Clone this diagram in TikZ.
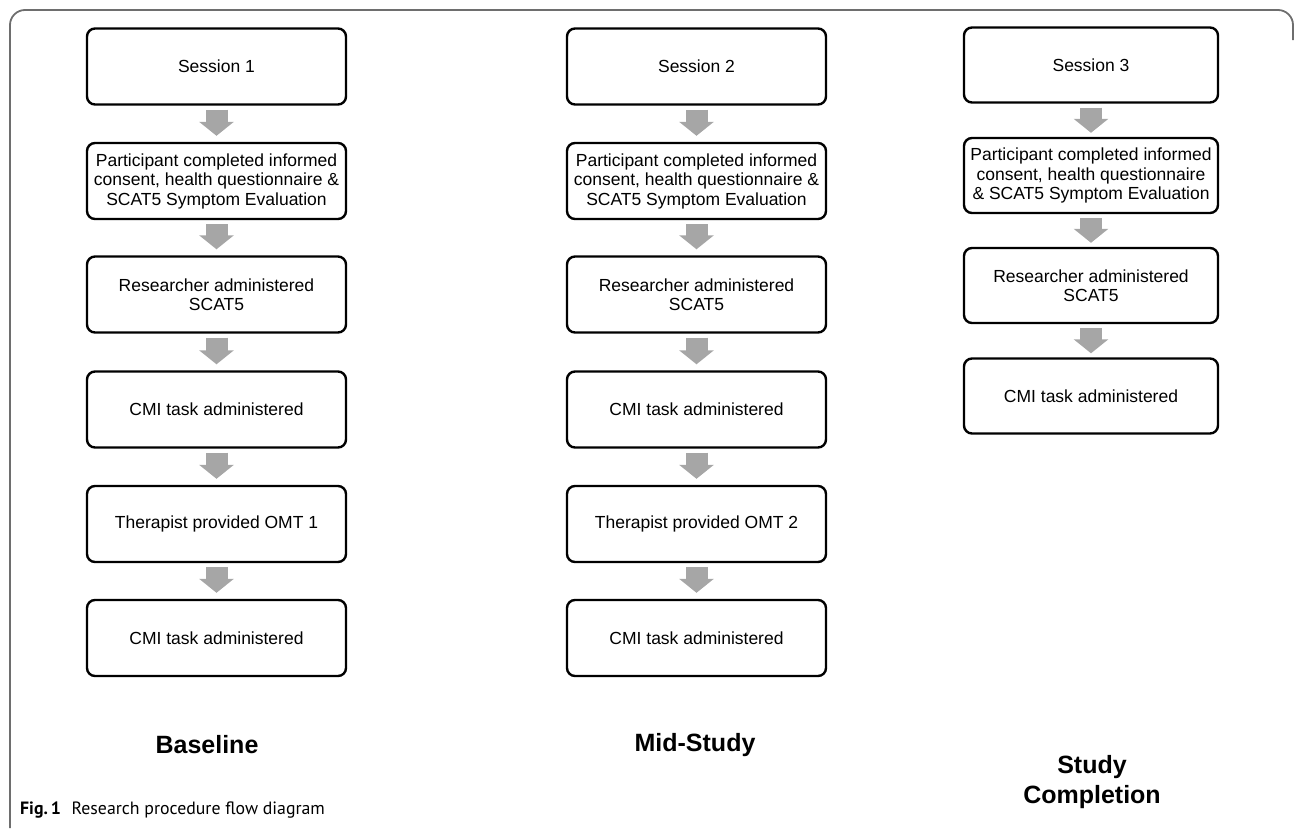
\documentclass[tikz,border=0pt]{standalone}
\usepackage{fontspec}
\setmainfont{Liberation Sans}
\newfontfamily\capfont{PT Sans}
\usetikzlibrary{arrows.meta,calc}
\definecolor{arrowgray}{HTML}{A6A6A6}
\definecolor{framegray}{HTML}{6E6E6E}
\tikzset{
  stepbox/.style={draw=black, line width=2.4pt, rounded corners=8pt, rectangle,
    minimum height=76pt, align=center, inner sep=0pt,
    font=\fontsize{17.5pt}{19.5pt}\selectfont},
  colA/.style={stepbox, minimum width=259pt},
  colC/.style={stepbox, minimum width=254pt, minimum height=75pt},
  flow/.style={draw=arrowgray, line width=22pt,
    -{Triangle[width=34pt,length=14pt]}},
  phase/.style={font=\fontsize{25pt}{30pt}\selectfont\bfseries, align=center}
}
\begin{document}
\begin{tikzpicture}[x=1pt,y=-1pt]
\useasboundingbox (0,0) rectangle (1295,828);
\draw[framegray, line width=1.8pt, rounded corners=15pt] (10,828) -- (10,10) -- (1293,10) -- (1293,40);

% Column 1
\node[colA] (a1) at (216.5,66.5) {Session 1};
\node[colA] (a2) at (216.5,181) {Participant completed informed\\consent, health questionnaire \&\\SCAT5 Symptom Evaluation};
\node[colA] (a3) at (216.5,294.5) {Researcher administered\\SCAT5};
\node[colA] (a4) at (216.5,409.5) {CMI task administered};
\node[colA] (a5) at (216.5,524) {Therapist provided OMT 1};
\node[colA] (a6) at (216.5,638) {CMI task administered};

% Column 2
\node[colA] (b1) at (696.5,66.5) {Session 2};
\node[colA] (b2) at (696.5,181) {Participant completed informed\\consent, health questionnaire \&\\SCAT5 Symptom Evaluation};
\node[colA] (b3) at (696.5,294.5) {Researcher administered\\SCAT5};
\node[colA] (b4) at (696.5,409.5) {CMI task administered};
\node[colA] (b5) at (696.5,524) {Therapist provided OMT 2};
\node[colA] (b6) at (696.5,638) {CMI task administered};

% Column 3
\node[colC] (c1) at (1091,65) {Session 3};
\node[colC] (c2) at (1091,175.5) {Participant completed informed\\consent, health questionnaire\\\& SCAT5 Symptom Evaluation};
\node[colC] (c3) at (1091,285.5) {Researcher administered\\SCAT5};
\node[colC] (c4) at (1091,396) {CMI task administered};

% Arrows
\foreach \p/\q in {a1/a2,a2/a3,a3/a4,a4/a5,a5/a6,b1/b2,b2/b3,b3/b4,b4/b5,b5/b6}
  \draw[flow] ($(\p.south)+(0,4)$) -- ($(\q.north)+(0,-6)$);
\foreach \p/\q in {c1/c2,c2/c3,c3/c4}
  \draw[flow] ($(\p.south)+(0,4)$) -- ($(\q.north)+(0,-4)$);

% Phase labels
\node[phase] (l1) at (207,745) {Baseline};
\node[phase] (l2) at (695,745) {Mid-Study};
\node[phase] (l3) at (1092,782) {Study\\Completion};

% Caption
\node[anchor=base west, inner sep=0pt, font=\capfont\fontsize{17.8pt}{20pt}\selectfont] (cap) at (20,814) {\textbf{Fig.\,1}\hspace{0.6em}Research procedure flow diagram};
\end{tikzpicture}
\end{document}
